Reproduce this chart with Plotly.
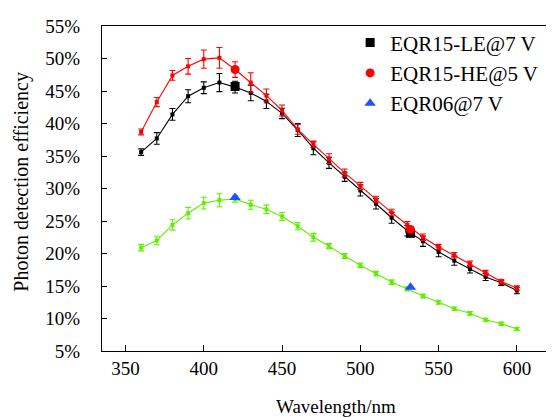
import plotly.graph_objects as go

wavelength = [360, 370, 380, 390, 400, 410, 420, 430, 440, 450, 460, 470, 480,
              490, 500, 510, 520, 530, 540, 550, 560, 570, 580, 590, 600]

pde_le = [35.6, 37.7, 41.4, 44.2, 45.5, 46.3, 45.6, 44.7, 43.4, 41.55, 39.0, 36.2, 33.95,
          31.8, 29.7, 27.65, 25.5, 23.5, 21.9, 20.25, 18.9, 17.6, 16.4, 15.5, 14.3]
err_le = [0.5, 0.9, 0.9, 1.0, 0.9, 1.4, 0.9, 1.2, 1.1, 0.8, 1.0, 1.0, 0.85,
          0.7, 0.85, 0.8, 0.85, 0.8, 0.8, 0.75, 0.7, 0.6, 0.55, 0.4, 0.5]

pde_he = [38.7, 43.3, 47.4, 48.8, 49.9, 50.1, 48.3, 46.3, 44.3, 42.0, 39.1, 36.8, 34.6,
          32.4, 30.4, 28.3, 26.3, 24.4, 22.5, 21.0, 19.75, 18.4, 17.0, 15.7, 14.7]
err_he = [0.45, 0.7, 0.75, 1.2, 1.4, 1.6, 1.2, 1.5, 1.0, 0.85, 0.75, 0.5, 0.75,
          0.6, 0.55, 0.5, 0.5, 0.5, 0.5, 0.4, 0.4, 0.42, 0.4, 0.35, 0.33]

pde_06 = [20.9, 22.0, 24.4, 26.2, 27.75, 28.2, 28.4, 27.5, 26.8, 25.7, 24.2, 22.5, 21.15,
          19.6, 18.2, 16.9, 15.6, 14.55, 13.45, 12.5, 11.5, 10.8, 9.8, 9.2, 8.4]
err_06 = [0.5, 0.65, 0.8, 0.9, 0.9, 1.0, 0.5, 0.7, 0.65, 0.6, 0.55, 0.6, 0.4,
          0.38, 0.35, 0.35, 0.35, 0.33, 0.3, 0.3, 0.28, 0.28, 0.25, 0.25, 0.25]

# highlighted reference points (legend entries)
ref_wavelength = [420, 532]
ref_le = [45.7, 23.1]
ref_he = [48.3, 23.7]
ref_06 = [28.6, 14.8]

names = ["EQR15-LE@7 V", "EQR15-HE@5 V", "EQR06@7 V"]
x_ticks = [350, 400, 450, 500, 550, 600]
y_ticks = [5, 10, 15, 20, 25, 30, 35, 40, 45, 50, 55]
x_title = "Wavelength/nm"
y_title = "Photon detection efficiency"

FONT = "'Times New Roman', 'Liberation Serif', Tinos, 'DejaVu Serif', serif"
BLACK = "#000000"
RED = "#ff0000"
GREEN = "#5fef00"
BLUE = "#2050ff"

fig = go.Figure()

for y, e, c in [(pde_le, err_le, BLACK), (pde_he, err_he, RED), (pde_06, err_06, GREEN)]:
    fig.add_trace(go.Scatter(
        x=wavelength, y=y, mode="lines+markers",
        line=dict(color=c, width=1.1),
        marker=dict(symbol="square", size=4, color=c),
        error_y=dict(type="data", array=e, visible=True, color=c, thickness=1.1, width=3),
        showlegend=False, hoverinfo="skip",
    ))

for y, c, sym, sz, nm, grp in [(ref_le, BLACK, "square", 9, names[0], "a"),
                               (ref_he, RED, "circle", 9, names[1], "b"),
                               (ref_06, BLUE, "triangle-up", 10, names[2], "c")]:
    fig.add_trace(go.Scatter(
        x=ref_wavelength, y=y, mode="markers", name=nm, legendgroup=grp,
        marker=dict(symbol=sym, size=sz, color=c, line=dict(width=0)),
    ))

fig.update_layout(
    width=554, height=417,
    margin=dict(l=94, r=8, t=12, b=74),
    paper_bgcolor="white", plot_bgcolor="white",
    font=dict(family=FONT, size=19, color="black"),
    legend=dict(x=0.549, y=1.011, xanchor="left", yanchor="top",
                bgcolor="rgba(0,0,0,0)", font=dict(size=21, family=FONT),
                tracegroupgap=0, traceorder="grouped"),
    xaxis=dict(
        range=[335.0, 623.7], tickvals=x_ticks, ticktext=[str(v) for v in x_ticks],
        showgrid=False, zeroline=False,
        showline=True, linecolor="black", linewidth=1.3, mirror=True,
        ticks="inside", ticklen=6, tickwidth=1.2, tickcolor="black",
        ticklabelstandoff=0,
    ),
    yaxis=dict(
        range=[5, 55], tickvals=y_ticks, ticktext=[f"{v}%" for v in y_ticks],
        showgrid=False, zeroline=False,
        showline=True, linecolor="black", linewidth=1.3,
        ticks="inside", ticklen=5, tickwidth=1.2, tickcolor="black",
        ticklabelstandoff=17,
    ),
    annotations=[
        dict(text=x_title, xref="paper", yref="paper", x=0.5166, y=-0.172,
             xanchor="center", yanchor="middle", showarrow=False,
             font=dict(size=19, family=FONT)),
        dict(text=y_title, xref="paper", yref="paper", x=-0.177, y=0.521,
             xanchor="center", yanchor="middle", showarrow=False, textangle=-90,
             font=dict(size=20, family=FONT)),
    ],
)

fig.write_html("out.html")
